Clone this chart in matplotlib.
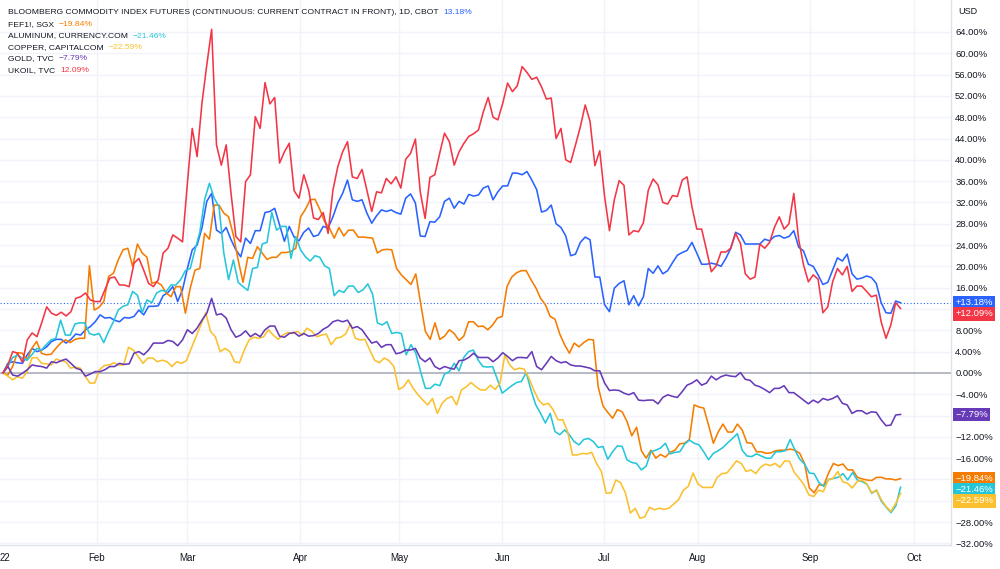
import numpy as np
import matplotlib
matplotlib.use('Agg')
import matplotlib.pyplot as plt
import matplotlib.transforms as mtransforms

plt.rcParams['font.family'] = ['Liberation Sans', 'DejaVu Sans']

# percent change since first bar (2022-01-03), one value per daily bar
bcom = [0.0, 1.8, 2.1, 1.9, 1.8, 3.4, 4.6, 4.0, 4.3, 4.9, 5.9, 6.3, 6.3, 5.6, 6.3, 7.3, 7.1, 8.1, 8.7, 9.6, 10.9, 10.3, 10.4, 9.9,
        9.6, 10.4, 10.3, 10.6, 11.8, 10.9, 12.5, 12.5, 12.6, 14.5, 15.1, 16.2, 13.4, 15.6, 19.6, 23.1, 24.0, 27.2, 32.2, 33.7, 26.8, 26.2, 27.3, 25.0,
        23.1, 21.8, 25.3, 24.3, 26.7, 26.7, 30.1, 30.3, 30.9, 27.8, 24.7, 27.5, 25.5, 24.8, 26.4, 27.2, 25.6, 25.9, 27.5, 27.2, 29.3, 31.9, 33.7, 36.2,
        32.5, 32.2, 32.5, 30.0, 28.1, 29.5, 30.6, 30.3, 30.6, 30.1, 29.8, 32.8, 33.6, 31.9, 25.7, 25.6, 28.4, 28.3, 29.3, 32.2, 32.8, 30.9, 32.2, 31.7,
        33.5, 33.2, 33.4, 34.7, 35.1, 32.5, 34.0, 35.1, 35.1, 37.5, 37.5, 37.2, 37.8, 36.2, 34.4, 30.2, 30.5, 31.5, 28.0, 27.3, 25.7, 22.0, 22.3,
        24.5, 25.5, 25.0, 18.0, 18.0, 12.8, 11.5, 15.9, 16.8, 17.3, 12.8, 14.5, 12.6, 14.3, 19.6, 18.7, 20.1, 18.6, 19.2, 20.7, 22.1, 22.6, 23.0, 24.5,
        22.5, 20.4, 20.4, 20.6, 20.4, 20.0, 21.5, 23.4, 26.4, 25.9, 24.2, 24.2, 24.2, 24.2, 25.1, 24.8, 25.6, 25.8, 25.3, 25.6, 26.7, 23.6, 22.9,
        20.4, 20.0, 18.4, 16.6, 17.0, 19.3, 21.6, 21.0, 22.3, 18.6, 17.6, 17.8, 18.2, 17.9, 16.8, 13.2, 11.3, 11.2, 13.5, 13.18]

fef = [0.0, -0.4, 1.2, 3.8, 3.7, 2.4, 4.6, 5.9, 3.7, 3.4, 3.5, 4.6, 5.6, 6.2, 5.7, 6.3, 6.5, 6.5, 20.1, 11.8, 12.3, 13.4, 18.1, 18.7, 21.2,
       23.1, 23.4, 20.0, 24.2, 22.5, 21.7, 16.8, 17.1, 16.5, 15.0, 14.3, 16.2, 16.2, 11.2, 15.9, 19.3, 19.6, 26.2, 25.1, 31.5, 31.5, 30.0, 29.3, 25.9, 21.2,
       17.0, 21.7, 21.5, 23.7, 22.5, 21.3, 21.7, 21.7, 22.6, 22.6, 22.8, 23.4, 29.3, 30.7, 32.5, 32.6, 30.7, 28.4, 27.2, 25.3, 27.3, 25.7, 26.8, 26.8,
       25.5, 25.5, 25.4, 25.3, 22.5, 23.1, 23.2, 23.1, 19.6, 18.4, 17.5, 16.6, 18.6, 13.1, 7.8, 6.3, 9.4, 6.3, 6.9, 8.1, 7.4, 6.1, 6.9, 9.6,
       9.6, 8.7, 8.8, 8.1, 9.0, 10.3, 10.6, 16.2, 18.0, 18.8, 19.2, 19.2, 17.5, 16.0, 14.0, 12.8, 10.6, 10.1, 7.3, 5.3, 3.7, 5.6, 4.9, 5.7,
       6.3, 6.2, -2.6, -6.2, -7.4, -8.5, -6.9, -7.3, -9.1, -11.8, -10.2, -14.6, -16.0, -14.5, -16.0, -15.3, -15.8, -14.9, -14.5, -13.3, -13.2, -12.5, -6.0,
       -6.4, -6.6, -9.8, -13.2, -11.1, -9.6, -11.1, -11.1, -9.6, -10.7, -13.1, -13.2, -14.8, -14.8, -15.1, -15.0, -14.6, -14.5, -14.5, -14.3, -14.5, -15.1, -17.0,
       -21.6, -22.5, -21.0, -21.1, -18.8, -17.0, -17.4, -17.1, -18.2, -18.2, -19.6, -19.9, -20.1, -20.2, -19.6, -19.6, -19.9, -19.9, -20.1, -19.84]

aluminum = [0.0, 1.2, 2.9, 3.3, 2.8, 2.4, 3.4, 4.6, 4.3, 5.3, 6.2, 6.5, 9.9, 7.1, 7.1, 9.2, 9.4, 9.4, 7.4, 7.1, 7.4, 5.7, 7.8, 9.6, 11.8, 12.5,
            12.8, 15.3, 14.6, 11.3, 13.7, 13.2, 15.0, 15.5, 15.3, 16.5, 16.5, 17.5, 19.2, 19.6, 23.1, 26.4, 32.5, 35.6, 32.8, 31.2, 22.5, 17.5, 21.2, 17.0,
            16.2, 15.5, 19.6, 19.8, 24.2, 24.5, 30.1, 26.8, 27.5, 27.5, 21.5, 25.6, 23.1, 21.8, 21.0, 22.0, 21.7, 20.1, 19.6, 14.5, 15.5, 15.1, 16.3, 16.3,
            15.1, 15.6, 16.7, 14.8, 9.4, 9.0, 9.6, 7.4, 7.6, 7.4, 3.4, 5.3, 3.7, 0.25, -2.9, -2.9, -2.1, -2.4, -0.2, 0.25, 1.8, 0.4, 2.9, 4.0,
            4.3, 2.4, 1.2, 1.1, 1.2, -1.2, -3.8, -3.1, -2.4, -1.8, -1.6, 0.06, -3.2, -6.0, -7.6, -9.4, -7.6, -11.0, -11.6, -10.7, -11.6, -12.9, -13.5, -12.5,
            -12.3, -12.9, -14.0, -13.8, -16.2, -14.8, -13.7, -13.8, -16.3, -16.8, -17.0, -18.2, -17.5, -14.8, -14.5, -14.1, -13.2, -15.2, -14.9, -14.8, -13.4, -12.6, -13.2,
            -13.5, -14.8, -16.3, -15.1, -14.6, -14.0, -13.1, -12.3, -11.4, -14.5, -15.6, -15.7, -15.2, -15.6, -16.0, -16.0, -14.8, -14.8, -14.6, -12.5, -14.5, -16.2, -17.1,
            -18.8, -18.9, -20.6, -21.3, -20.0, -19.8, -19.6, -18.9, -20.1, -18.7, -20.1, -20.4, -20.9, -22.6, -22.0, -24.1, -25.2, -26.2, -25.0, -21.46]

copper = [0.0, -0.6, -1.3, -0.7, -1.0, 0.25, 2.8, 2.9, 1.8, 1.7, 1.5, 2.6, 2.3, 2.1, 0.9, 1.1, 0.9, -0.6, -1.9, -1.9, 0.6, 1.4, 1.5, 1.9, 1.5,
          1.5, 4.8, 4.3, 3.1, 1.8, 2.8, 2.8, 2.1, 2.4, 2.1, 1.2, 2.1, 1.8, 2.3, 4.6, 6.8, 9.0, 11.3, 7.8, 6.8, 4.0, 4.6, 4.0, 2.1,
          1.9, 4.3, 6.2, 6.7, 6.5, 6.8, 8.1, 7.1, 6.3, 7.1, 7.6, 7.4, 7.8, 7.1, 8.4, 7.8, 6.8, 7.1, 7.3, 5.3, 6.5, 6.7, 7.3, 9.2,
          6.5, 6.2, 6.3, 4.3, 2.4, 1.9, 2.8, 2.3, 1.2, -3.1, -2.6, -1.3, -2.9, -4.1, -5.1, -6.0, -4.8, -7.6, -5.7, -4.8, -4.4, -6.0, -3.2, -2.6,
          -1.8, -2.6, -3.2, -3.2, -2.3, -3.1, -1.9, 3.4, 1.5, 0.6, 0.9, 0.7, -1.0, -3.2, -5.1, -6.0, -5.7, -6.9, -8.8, -8.8, -11.0, -15.4, -15.4, -15.1,
          -15.2, -14.9, -17.0, -18.5, -22.6, -22.5, -20.1, -20.6, -22.6, -26.3, -25.4, -27.3, -27.0, -25.2, -25.7, -25.4, -25.6, -25.4, -24.6, -23.8, -22.0, -21.3, -18.8,
          -20.8, -21.5, -21.5, -21.5, -19.6, -18.9, -18.8, -17.7, -16.5, -17.0, -18.5, -18.2, -18.9, -17.7, -17.1, -17.4, -17.0, -17.7, -16.5, -16.6, -18.7, -19.8, -21.0,
          -22.9, -23.2, -22.0, -22.3, -20.1, -19.8, -18.5, -20.4, -20.7, -21.6, -20.4, -20.1, -20.8, -22.5, -22.0, -23.8, -25.1, -26.0, -24.5, -22.59]

gold = [0.0, 1.2, -0.4, -0.6, -0.06, 0.6, 1.5, 1.3, 1.2, 0.9, 2.1, 1.9, 2.3, 2.6, 1.8, 0.9, 0.6, -0.6, -0.2, 0.25, 0.25, 0.6, 1.2, 1.2,
        1.8, 1.6, 1.7, 3.7, 4.0, 3.4, 4.3, 5.6, 5.6, 5.6, 6.1, 5.9, 5.1, 6.2, 8.1, 7.4, 8.4, 9.9, 11.2, 14.0, 10.9, 11.1, 10.3, 8.1,
        6.7, 7.1, 7.9, 6.8, 7.4, 6.8, 8.1, 8.8, 8.8, 6.9, 6.7, 7.4, 7.6, 6.9, 7.4, 6.9, 7.0, 7.4, 8.2, 8.7, 9.6, 9.9, 9.6, 9.9,
        8.4, 8.7, 8.1, 6.8, 5.6, 5.9, 4.8, 5.3, 5.3, 3.6, 3.8, 4.3, 4.3, 4.6, 2.8, 2.1, 2.8, 1.2, 0.7, 1.2, 0.9, 0.7, 2.3, 2.4,
        2.9, 3.7, 2.9, 2.9, 2.9, 2.1, 2.8, 3.8, 3.1, 2.3, 2.9, 2.9, 2.8, 4.0, 1.2, 0.6, 1.8, 3.1, 2.3, 1.9, 2.1, 1.5, 1.3, 1.3,
        1.1, 0.9, 0.4, 0.4, -1.9, -3.3, -3.2, -3.3, -3.8, -4.1, -3.7, -5.1, -5.2, -5.1, -5.1, -5.8, -4.6, -4.1, -4.4, -4.6, -3.5, -2.3, -1.9,
        -1.3, -2.3, -1.9, -0.6, -1.3, -0.7, -0.4, -0.6, -0.7, 0.06, -1.2, -1.4, -2.3, -2.6, -3.1, -3.7, -2.9, -2.9, -2.4, -3.7, -3.7, -4.4, -5.1,
        -5.8, -5.1, -5.6, -4.8, -5.1, -4.8, -4.3, -5.7, -6.0, -7.6, -7.1, -7.1, -7.7, -7.3, -7.4, -8.8, -9.9, -9.8, -7.9, -7.79]

ukoil = [0.0, 1.5, 4.0, 3.7, 2.0, 6.2, 7.5, 6.8, 9.5, 12.4, 11.2, 10.8, 11.4, 10.7, 11.5, 14.0, 14.3, 15.0, 13.7, 13.4, 13.4, 15.6, 17.8, 18.0, 16.5,
         16.5, 16.2, 20.6, 21.5, 19.3, 16.8, 16.2, 17.5, 22.5, 23.4, 25.9, 25.3, 24.6, 35.6, 45.9, 40.6, 50.6, 57.8, 64.5, 42.8, 39.0, 42.8,
         33.7, 25.6, 24.6, 35.9, 37.2, 48.1, 45.9, 54.5, 50.5, 51.7, 39.4, 41.5, 43.1, 34.2, 32.8, 37.2, 34.3, 29.1, 28.8, 30.1, 26.2, 34.3, 38.7, 41.5, 43.4,
         36.8, 36.5, 38.2, 34.3, 30.3, 34.0, 33.8, 36.5, 35.5, 36.8, 34.7, 40.1, 41.2, 43.9, 34.0, 29.0, 36.7, 37.2, 41.2, 45.0, 43.4, 39.0, 41.5, 43.1,
         44.4, 44.9, 45.6, 49.0, 51.7, 48.0, 47.5, 50.6, 54.4, 52.8, 53.9, 57.5, 56.4, 55.1, 55.5, 53.7, 51.4, 51.6, 44.0, 45.9, 40.0, 39.5, 42.8, 46.2,
         50.3, 47.2, 38.9, 41.7, 33.1, 26.7, 32.5, 36.1, 35.2, 25.9, 26.7, 26.5, 28.2, 34.3, 36.4, 35.3, 32.0, 31.7, 33.3, 33.1, 36.2, 36.8, 31.2,
         27.0, 27.0, 23.1, 19.0, 20.1, 22.7, 22.7, 23.4, 26.2, 24.3, 18.6, 17.6, 18.0, 24.2, 23.4, 24.5, 27.3, 29.3, 27.0, 28.0, 33.7, 25.0, 20.3,
         17.1, 18.4, 17.6, 11.3, 12.4, 17.1, 19.6, 18.4, 20.0, 15.3, 16.3, 16.3, 15.3, 14.3, 14.6, 9.6, 6.5, 9.0, 13.2, 12.09]

names = ['BLOOMBERG COMMODITY INDEX FUTURES (CONTINUOUS: CURRENT CONTRACT IN FRONT), 1D, CBOT',
         'FEF1!, SGX', 'ALUMINUM, CURRENCY.COM', 'COPPER, CAPITALCOM', 'GOLD, TVC', 'UKOIL, TVC']
series = [bcom, fef, aluminum, copper, gold, ukoil]
colors = ['#2962ff', '#f57c00', '#26c6da', '#fbc02d', '#673ab7', '#f23645']

months = ['22', 'Feb', 'Mar', 'Apr', 'May', 'Jun', 'Jul', 'Aug', 'Sep', 'Oct']
month_pos = [0.4, 19.3, 37.8, 61.0, 81.3, 102.5, 123.4, 142.7, 165.7, 187.1]
last_bar = 184.3

def pct(v, sign=False):
    s = '%.2f%%' % abs(v)
    if v < 0:
        return '\u2212' + s
    return ('+' + s) if sign else s

fig = plt.figure(figsize=(10, 5.69), dpi=100)
fig.patch.set_facecolor('white')
ax = fig.add_axes([0, 24 / 569, 951 / 1000, 545 / 569])

ax.set_xlim(-0.62, 194.66)
ax.set_ylim(-32.3, 70.0)

# grid
yt = np.arange(-32, 65, 4)
for v in yt:
    ax.axhline(v, color='#f0f3fa', lw=1, zorder=0)
for p in month_pos[1:]:
    ax.axvline(p, color='#f0f3fa', lw=1, zorder=0)
ax.axhline(0, color='#b2b5be', lw=1.3, zorder=1)

# last value of main series
ax.axhline(bcom[-1], color='#2962ff', lw=0.8, ls=(0, (1, 2)), zorder=1)

for vals, c in zip(series, colors):
    x = np.linspace(0, last_bar, len(vals))
    ax.plot(x, vals, color=c, lw=1.15, zorder=3, solid_joinstyle='round')

# last value badges on the price scale, pushed apart when they overlap
min_gap = 2.07
order = np.argsort([-s[-1] for s in series])
badge_y = {}
prev = None
for i in order:
    v = series[i][-1]
    y = v if prev is None else min(v, prev - min_gap)
    prev = y
    badge_y[i] = y

# axes styling
for s in ['top', 'left']:
    ax.spines[s].set_visible(False)
for s in ['bottom', 'right']:
    ax.spines[s].set_color('#e0e3eb')
    ax.spines[s].set_linewidth(1)
ax.yaxis.tick_right()
ax.set_yticks(yt)
# tick labels hidden behind a badge are left out, as on the price scale
ylabels = []
for v in yt:
    hidden = any(abs(v - b) < 1.8 for b in badge_y.values())
    ylabels.append('' if hidden else pct(v))
ax.set_yticklabels(ylabels)
ax.tick_params(axis='y', length=0, pad=3, labelsize=6.8, labelcolor='#131722')
ax.set_xticks(month_pos)
ax.set_xticklabels(months)
ax.tick_params(axis='x', length=0, pad=6, labelsize=7, labelcolor='#131722')

fig.text(958 / 1000, 1 - 11 / 569, 'USD', fontsize=6.5, color='#131722', va='center', ha='left')

trans = mtransforms.blended_transform_factory(ax.transAxes, ax.transData)
for i, y in badge_y.items():
    ax.annotate(pct(series[i][-1], sign=True), xy=(1, y), xycoords=trans, xytext=(3, 0), textcoords='offset points',
                ha='left', va='center', fontsize=6.8, color='white', annotation_clip=False,
                bbox=dict(boxstyle='square,pad=0.25', fc=colors[i], ec='none'))

# legend block top-left: name then coloured last value
fig.canvas.draw()
renderer = fig.canvas.get_renderer()
inv = fig.transFigure.inverted()
for k, (n, vals, c) in enumerate(zip(names, series, colors)):
    yk = 1 - (13 + 11.5 * k) / 569
    t = fig.text(8 / 1000, yk, n, fontsize=6.1, color='#131722', va='center', ha='left')
    bb = t.get_window_extent(renderer=renderer)
    x0, _ = inv.transform((bb.x1 + 5, 0))
    fig.text(x0, yk, pct(vals[-1]), fontsize=6.1, color=c, va='center', ha='left')

fig.savefig('out.png', dpi=100, facecolor='white')
